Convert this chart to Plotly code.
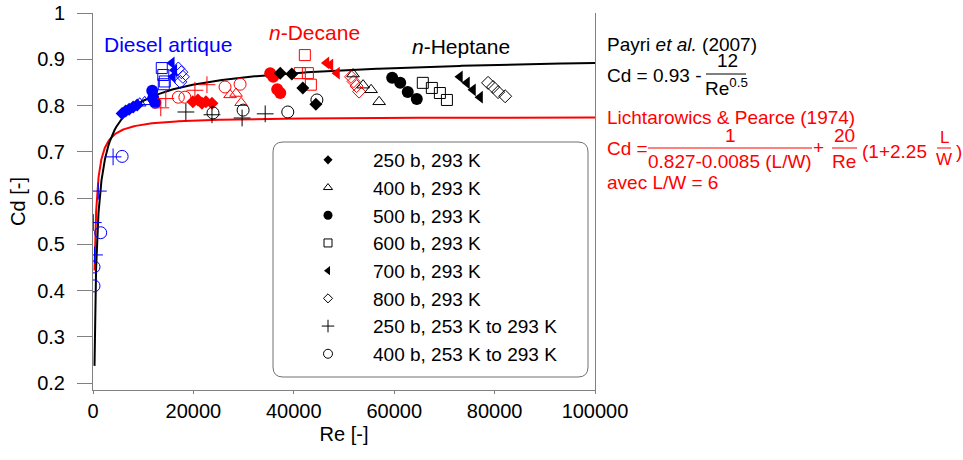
import numpy as np
import plotly.graph_objects as go

# ---------------- data ----------------
# Diesel artique (blue)
blue_d250_re = [5800, 6500, 7200, 8000, 8800]
blue_d250_cd = [0.783, 0.788, 0.792, 0.797, 0.801]
blue_t400_re = [9300, 10300]
blue_t400_cd = [0.805, 0.808]
blue_c500_re = [11800, 12000, 12400]
blue_c500_cd = [0.832, 0.816, 0.806]
blue_s600_re = [13700, 14000, 14300, 14100]
blue_s600_cd = [0.881, 0.866, 0.852, 0.846]
blue_l700_re = [15700, 16200, 15900]
blue_l700_cd = [0.892, 0.876, 0.862]
blue_o800_re = [17000, 17600, 17900, 17400]
blue_o800_cd = [0.880, 0.872, 0.862, 0.851]
blue_p250_re = [60, 300, 1060, 4000]
blue_p250_cd = [0.547, 0.477, 0.615, 0.689]
blue_oc400_re = [200, 200, 1530, 5800]
blue_oc400_cd = [0.410, 0.451, 0.525, 0.690]

# n-Decane (red)
red_d250_re = [19900, 20900, 21700, 22500, 23700]
red_d250_cd = [0.808, 0.812, 0.805, 0.808, 0.805]
red_t400_re = [27300, 28500, 29500]
red_t400_cd = [0.823, 0.826, 0.806]
red_c500_re = [35300, 35900, 36700, 37300]
red_c500_cd = [0.870, 0.862, 0.835, 0.827]
red_s600_re = [42200, 41200, 42800, 43400]
red_s600_cd = [0.909, 0.870, 0.870, 0.845]
red_l700_re = [46500, 47300, 48600]
red_l700_cd = [0.892, 0.888, 0.870]
red_o800_re = [51400, 51900, 52500, 53000]
red_o800_cd = [0.862, 0.852, 0.842, 0.830]
red_p250_re = [13500, 14500, 20300, 22700]
red_p250_cd = [0.795, 0.815, 0.833, 0.845]
red_oc400_re = [17000, 18300, 26300, 29300]
red_oc400_cd = [0.818, 0.818, 0.840, 0.846]

# n-Heptane (black)
blk_d250_re = [37300, 39600, 41800, 44400]
blk_d250_cd = [0.870, 0.868, 0.838, 0.803]
blk_t400_re = [51800, 53800, 55400, 57000]
blk_t400_cd = [0.868, 0.844, 0.834, 0.808]
blk_c500_re = [59600, 61200, 62700, 64500]
blk_c500_cd = [0.860, 0.849, 0.829, 0.814]
blk_s600_re = [65700, 67500, 69100, 70500]
blk_s600_cd = [0.849, 0.838, 0.827, 0.812]
blk_l700_re = [73100, 74500, 75700, 77100]
blk_l700_cd = [0.862, 0.849, 0.834, 0.818]
blk_o800_re = [78700, 79700, 80700, 82100]
blk_o800_cd = [0.849, 0.840, 0.829, 0.820]
blk_p250_re = [18500, 23700, 29700, 34300]
blk_p250_cd = [0.786, 0.780, 0.773, 0.782]
blk_oc400_re = [23900, 29900, 38800, 44600]
blk_oc400_cd = [0.784, 0.790, 0.786, 0.812]

legend_labels = ["250 b, 293 K", "400 b, 293 K", "500 b, 293 K", "600 b, 293 K",
                 "700 b, 293 K", "800 b, 293 K", "250 b, 253 K to 293 K",
                 "400 b, 253 K to 293 K"]
x_ticks = [0, 20000, 40000, 60000, 80000, 100000]
y_ticks = [0.2, 0.3, 0.4, 0.5, 0.6, 0.7, 0.8, 0.9, 1.0]

# correlation curves (formulas shown on the chart)
re_curve = np.concatenate([np.linspace(300, 3000, 200), np.linspace(3000, 100000, 300)])
cd_payri = 0.93 - 12 / np.sqrt(re_curve)
LW = 6
cd_licht = 1 / (1 / (0.827 - 0.0085 * LW) + 20 / re_curve * (1 + 2.25 * LW))

# ---------------- styling ----------------
FONT = "Liberation Sans, Arial, sans-serif"
BLUE, RED, BLACK = "#0000FF", "#FF0000", "#000000"
AX = "#808080"

styles = [  # symbol, size, open
    ("diamond", 10, False),
    ("triangle-up-open", 11, True),
    ("circle", 12, False),
    ("square-open", 11, True),
    ("triangle-left", 11, False),
    ("diamond-open", 10, True),
    ("cross-thin-open", 12, True),
    ("circle-open", 12, True),
]

fig = go.Figure()

fig.add_trace(go.Scatter(x=re_curve, y=cd_licht, mode="lines",
                         line=dict(color=RED, width=2), showlegend=False, hoverinfo="skip"))
fig.add_trace(go.Scatter(x=re_curve, y=cd_payri, mode="lines",
                         line=dict(color=BLACK, width=2), showlegend=False, hoverinfo="skip"))

groups = [
    (BLUE, [(blue_d250_re, blue_d250_cd), (blue_t400_re, blue_t400_cd), (blue_c500_re, blue_c500_cd),
            (blue_s600_re, blue_s600_cd), (blue_l700_re, blue_l700_cd), (blue_o800_re, blue_o800_cd),
            (blue_p250_re, blue_p250_cd), (blue_oc400_re, blue_oc400_cd)]),
    (RED, [(red_d250_re, red_d250_cd), (red_t400_re, red_t400_cd), (red_c500_re, red_c500_cd),
           (red_s600_re, red_s600_cd), (red_l700_re, red_l700_cd), (red_o800_re, red_o800_cd),
           (red_p250_re, red_p250_cd), (red_oc400_re, red_oc400_cd)]),
    (BLACK, [(blk_d250_re, blk_d250_cd), (blk_t400_re, blk_t400_cd), (blk_c500_re, blk_c500_cd),
             (blk_s600_re, blk_s600_cd), (blk_l700_re, blk_l700_cd), (blk_o800_re, blk_o800_cd),
             (blk_p250_re, blk_p250_cd), (blk_oc400_re, blk_oc400_cd)]),
]


def marker(color, sym, size, is_open):
    if is_open:
        return dict(symbol=sym, size=size, color=color, line=dict(color=color, width=1))
    return dict(symbol=sym, size=size, color=color, line=dict(width=0))


for color, series in groups:
    for (xs, ys), (sym, size, is_open) in zip(series, styles):
        fig.add_trace(go.Scatter(x=xs, y=ys, mode="markers", marker=marker(color, sym, size, is_open),
                                 showlegend=False))

# legend-only entries (black symbols)
for i, (lab, (sym, size, is_open)) in enumerate(zip(legend_labels, styles)):
    fig.add_trace(go.Scatter(x=[None], y=[None], mode="markers", name=lab, legendgroup=f"g{i}",
                             marker=marker(BLACK, sym, max(size - 3, 7), is_open)))

# ---------------- layout ----------------
L, R, T, B = 93, 595, 13, 390
W, H = 963, 460


def px(xp):
    return (xp - L) / (R - L)


def py(yp):
    return (B - yp) / (B - T)


annotations = []


def txt(text, x, y, color=BLACK, size=19, xanchor="center"):
    annotations.append(dict(text=text, x=px(x), y=py(y), xref="paper", yref="paper",
                            showarrow=False, xanchor=xanchor, yanchor="middle",
                            font=dict(family=FONT, size=size, color=color)))


txt("Diesel artique", 168, 44, BLUE, 21)
txt("<i>n</i>-Decane", 314, 33, RED, 21)
txt("<i>n</i>-Heptane", 461, 47, BLACK, 21)

txt("Payri <i>et al.</i> (2007)", 605, 44, BLACK, 19, "left")
txt("Cd = 0.93 -", 605, 75, BLACK, 19, "left")
txt("12", 727, 61, BLACK, 19)
txt("Re<sup>0.5</sup>", 726, 87, BLACK, 19)

txt("Lichtarowics &amp; Pearce (1974)", 605, 117, RED, 19, "left")
txt("Cd =", 605, 148, RED, 19, "left")
txt("1", 730, 135, RED, 19)
txt("0.827-0.0085 (L/W)", 730, 161, RED, 19)
txt("+", 818, 147, RED, 19)
txt("20", 844, 135, RED, 19)
txt("Re", 844, 161, RED, 19)
txt("(1+2.25", 860, 151, RED, 19, "left")
txt("L", 944, 137, RED, 17)
txt("W", 944, 159, RED, 17)
txt(")", 954, 151, RED, 19, "left")
txt("avec L/W = 6", 605, 183, RED, 19, "left")

shapes = []


def hline(x0, x1, y, color):
    shapes.append(dict(type="line", xref="paper", yref="paper", x0=px(x0), x1=px(x1),
                       y0=py(y), y1=py(y), line=dict(color=color, width=1)))


hline(706, 746, 74, BLACK)
hline(648, 812, 148, RED)
hline(832, 857, 148, RED)
hline(937, 951, 148, RED)

# rounded legend frame
bx0, by0, bx1, by1, rr = 273, 142, 588, 377, 10
rx, ry = rr / (R - L), rr / (B - T)
X0, X1, Y0, Y1 = px(bx0), px(bx1), py(by1), py(by0)
path = (f"M {X0+rx},{Y0} L {X1-rx},{Y0} Q {X1},{Y0} {X1},{Y0+ry} L {X1},{Y1-ry} "
        f"Q {X1},{Y1} {X1-rx},{Y1} L {X0+rx},{Y1} Q {X0},{Y1} {X0},{Y1-ry} "
        f"L {X0},{Y0+ry} Q {X0},{Y0} {X0+rx},{Y0} Z")
shapes.append(dict(type="path", xref="paper", yref="paper", path=path,
                   line=dict(color="#707070", width=1), fillcolor="rgba(0,0,0,0)", layer="below"))

fig.update_layout(
    width=W, height=H,
    margin=dict(l=L, r=W - R, t=T, b=H - B, pad=0, autoexpand=False),
    paper_bgcolor="white", plot_bgcolor="white",
    font=dict(family=FONT, size=20, color=BLACK),
    showlegend=True,
    legend=dict(x=px(283), y=py(141), xanchor="left", yanchor="top",
                bgcolor="rgba(0,0,0,0)", borderwidth=0, tracegroupgap=0,
                itemwidth=80, font=dict(family=FONT, size=19, color=BLACK)),
    xaxis=dict(range=[0, 100000], tickvals=x_ticks, ticktext=[str(v) for v in x_ticks],
               showgrid=False, zeroline=False, showline=True, linecolor=AX, linewidth=1,
               ticks="outside", ticklen=3, tickcolor=AX, automargin=False,
               ticklabeloverflow="allow", tickfont=dict(size=20),
               title=dict(text="Re [-]", font=dict(size=20), standoff=5)),
    yaxis=dict(range=[0.185, 1.0], tickvals=y_ticks, ticktext=[f"{v:g}" for v in y_ticks],
               showgrid=False, zeroline=False, showline=True, linecolor=AX, linewidth=1,
               mirror=True, ticks="outside", ticklen=15, tickcolor=AX, automargin=False,
               ticklabelstandoff=8, ticklabeloverflow="allow", tickfont=dict(size=20),
               title=dict(text="Cd [-]", font=dict(size=20), standoff=6)),
    annotations=annotations, shapes=shapes,
)

fig.write_html("out.html", config={"displayModeBar": False},
               post_script="document.body.style.margin='0';document.body.style.overflow='hidden';")
